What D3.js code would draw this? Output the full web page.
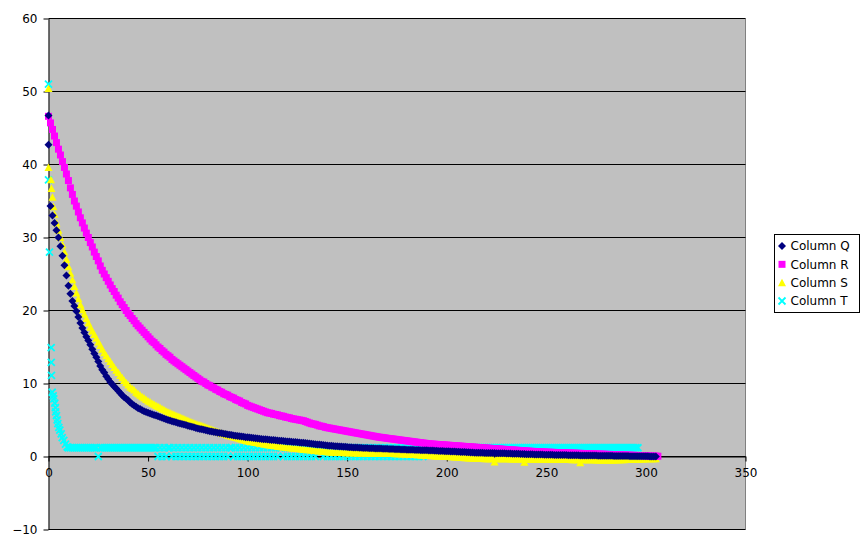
<!DOCTYPE html>
<html><head><meta charset="utf-8">
<script src="https://cdnjs.cloudflare.com/ajax/libs/d3/7.8.5/d3.min.js"></script>
<style>body{margin:0;background:#fff}svg{display:block}text{font-family:"DejaVu Sans",sans-serif;font-size:12px;fill:#000}</style>
</head><body><svg id="chart" width="867" height="548"></svg>
<script>
const seriesNames = ["Column Q","Column R","Column S","Column T"];
const xTicks = [0,50,100,150,200,250,300,350];
const yTicks = [-10,0,10,20,30,40,50,60];

// Column Q: extra early points, then values for x = 1, 2, 3 ...
const qHead = [[0,46.7],[0,42.7]];
const qTailStart = 1;
const qTail = [34.3,33.0,32.0,31.0,30.0,28.8,27.5,26.2,24.8,23.4,
22.3,21.3,20.6,19.9,19.1,18.3,17.6,17.0,16.4,15.9,
15.3,14.7,14.1,13.6,13.0,12.4,11.9,11.5,11.0,10.6,
10.2,9.9,9.6,9.3,9.0,8.7,8.4,8.1,7.9,7.7,
7.4,7.2,7.0,6.8,6.6,6.5,6.35,6.2,6.1,6.0,
5.9,5.8,5.7,5.6,5.5,5.4,5.3,5.2,5.1,5.0,
4.92,4.84,4.76,4.68,4.6,4.52,4.45,4.38,4.3,4.22,
4.15,4.07,4.0,3.92,3.85,3.78,3.72,3.65,3.59,3.52,
3.47,3.42,3.37,3.32,3.27,3.22,3.17,3.12,3.07,3.02,
2.97,2.93,2.89,2.85,2.81,2.77,2.73,2.69,2.65,2.62,
2.59,2.56,2.53,2.5,2.47,2.44,2.41,2.38,2.35,2.32,
2.3,2.27,2.25,2.22,2.2,2.17,2.15,2.12,2.1,2.07,
2.05,2.03,2.0,1.98,1.95,1.93,1.9,1.87,1.84,1.81,
1.78,1.75,1.72,1.69,1.66,1.63,1.6,1.57,1.54,1.51,
1.48,1.46,1.44,1.42,1.4,1.38,1.36,1.34,1.32,1.3,
1.28,1.27,1.25,1.24,1.22,1.21,1.19,1.18,1.16,1.15,
1.14,1.13,1.12,1.11,1.1,1.09,1.08,1.07,1.06,1.05,
1.04,1.03,1.02,1.0,0.99,0.98,0.97,0.96,0.95,0.94,
0.93,0.92,0.91,0.9,0.89,0.88,0.87,0.86,0.85,0.84,
0.83,0.82,0.81,0.8,0.79,0.77,0.76,0.75,0.73,0.72,
0.71,0.7,0.68,0.67,0.65,0.64,0.62,0.61,0.6,0.58,
0.57,0.56,0.55,0.53,0.52,0.51,0.5,0.5,0.49,0.49,
0.48,0.48,0.47,0.47,0.46,0.46,0.45,0.44,0.43,0.42,
0.41,0.4,0.39,0.38,0.37,0.36,0.35,0.34,0.33,0.32,
0.31,0.31,0.3,0.29,0.28,0.28,0.27,0.26,0.25,0.25,
0.24,0.23,0.23,0.22,0.22,0.21,0.2,0.2,0.19,0.19,
0.18,0.18,0.17,0.17,0.16,0.16,0.15,0.15,0.14,0.14,
0.13,0.13,0.12,0.12,0.12,0.11,0.11,0.1,0.1,0.1,
0.09,0.09,0.09,0.08,0.08,0.08,0.07,0.07,0.06,0.06,
0.06,0.05,0.05,0.05,0.04,0.04,0.04,0.03,0.03,0.02,
0.02,0.01,0.01,0.0,0.0];

// Column R
const rHead = [[0,46.6]];
const rTailStart = 1;
const rTail = [45.7,44.8,43.9,43.0,42.1,41.3,40.4,39.6,38.7,37.8,
36.8,35.9,35.0,34.3,33.5,32.7,32.0,31.3,30.6,30.0,
29.3,28.7,28.0,27.4,26.8,26.1,25.5,25.0,24.5,24.0,
23.5,23.0,22.6,22.1,21.7,21.2,20.8,20.4,20.0,19.6,
19.3,18.9,18.6,18.2,17.9,17.6,17.3,17.0,16.7,16.4,
16.1,15.8,15.6,15.3,15.0,14.8,14.5,14.3,14.0,13.8,
13.6,13.3,13.1,12.9,12.7,12.5,12.3,12.1,11.9,11.7,
11.5,11.3,11.1,10.9,10.7,10.5,10.3,10.2,10.0,9.8,
9.7,9.5,9.4,9.2,9.1,8.9,8.8,8.6,8.5,8.4,
8.2,8.1,8.0,7.8,7.7,7.6,7.4,7.3,7.2,7.0,
6.9,6.8,6.7,6.6,6.5,6.4,6.3,6.2,6.1,6.0,
5.95,5.9,5.8,5.75,5.7,5.6,5.55,5.5,5.4,5.35,
5.3,5.2,5.15,5.1,5.05,5.0,4.95,4.9,4.8,4.7,
4.6,4.5,4.45,4.4,4.3,4.2,4.15,4.1,4.0,3.95,
3.9,3.85,3.8,3.75,3.7,3.65,3.6,3.55,3.5,3.45,
3.4,3.35,3.3,3.25,3.2,3.15,3.1,3.05,3.0,2.95,
2.9,2.85,2.8,2.75,2.7,2.65,2.62,2.58,2.55,2.5,
2.47,2.43,2.4,2.36,2.32,2.28,2.25,2.21,2.18,2.14,
2.1,2.07,2.03,2.0,1.96,1.92,1.89,1.85,1.82,1.78,
1.75,1.72,1.7,1.68,1.66,1.64,1.62,1.6,1.58,1.56,
1.54,1.52,1.5,1.48,1.46,1.44,1.42,1.4,1.38,1.36,
1.34,1.32,1.3,1.28,1.26,1.24,1.22,1.2,1.18,1.16,
1.14,1.12,1.1,1.08,1.06,1.04,1.02,1.0,0.98,0.96,
0.94,0.92,0.9,0.88,0.86,0.84,0.82,0.8,0.78,0.76,
0.74,0.72,0.7,0.69,0.68,0.66,0.65,0.63,0.62,0.6,
0.59,0.58,0.57,0.56,0.55,0.54,0.53,0.52,0.51,0.5,
0.49,0.48,0.47,0.46,0.45,0.44,0.43,0.42,0.41,0.4,
0.39,0.38,0.37,0.36,0.35,0.34,0.33,0.32,0.31,0.3,
0.29,0.28,0.27,0.26,0.25,0.24,0.23,0.22,0.21,0.2,
0.19,0.18,0.17,0.16,0.15,0.14,0.13,0.12,0.11,0.1,
0.09,0.08,0.07,0.06,0.05,0.04];

// Column S
const sHead = [[0,50.4],[0,39.6],[1.25,37.9],[1.5,36.7],[2,35.5],[2.5,34.2]];
const sTailStart = 3;
const sTail = [33.2,32.0,31.0,30.0,29.0,28.0,27.0,26.0,
25.1,24.2,23.3,22.4,21.6,20.8,20.1,19.5,18.9,18.3,
17.7,17.2,16.7,16.2,15.7,15.2,14.7,14.2,13.8,13.4,
13.0,12.6,12.2,11.8,11.5,11.1,10.8,10.4,10.1,9.8,
9.5,9.3,9.1,8.8,8.6,8.4,8.2,8.0,7.8,7.6,
7.45,7.3,7.15,7.0,6.85,6.7,6.55,6.4,6.25,6.1,
5.98,5.86,5.74,5.62,5.5,5.4,5.28,5.16,5.04,4.92,
4.8,4.7,4.6,4.5,4.4,4.3,4.2,4.1,4.0,3.9,
3.8,3.7,3.6,3.5,3.4,3.3,3.2,3.1,3.0,2.92,
2.84,2.76,2.68,2.6,2.52,2.44,2.36,2.28,2.2,2.12,
2.07,2.02,1.97,1.92,1.87,1.82,1.77,1.72,1.67,1.62,
1.58,1.54,1.5,1.46,1.42,1.38,1.34,1.3,1.27,1.24,
1.21,1.18,1.15,1.12,1.09,1.06,1.03,1.0,0.97,0.94,
0.92,0.89,0.86,0.83,0.8,0.77,0.74,0.71,0.68,0.65,
0.63,0.61,0.6,0.58,0.57,0.56,0.55,0.54,0.53,0.52,
0.51,0.5,0.5,0.49,0.49,0.48,0.48,0.47,0.47,0.46,
0.46,0.45,0.45,0.44,0.44,0.43,0.43,0.42,0.42,0.41,
0.41,0.4,0.4,0.39,0.38,0.37,0.36,0.35,0.34,0.33,
0.31,0.3,0.28,0.27,0.25,0.24,0.22,0.2,0.18,0.16,
0.14,0.12,0.1,0.08,0.06,0.05,0.04,0.03,0.02,0.01,
0.0,-0.02,-0.04,-0.06,-0.08,-0.1,-0.12,-0.14,-0.16,-0.18,
-0.2,-0.21,-0.22,-0.24,-0.25,-0.27,-0.28,-0.29,-0.3,-0.3,
-0.3,-0.3,-0.3,-0.75,-0.3,-0.31,-0.31,-0.31,-0.32,-0.32,
-0.32,-0.33,-0.33,-0.33,-0.34,-0.34,-0.34,-0.35,-0.8,-0.35,
-0.35,-0.36,-0.36,-0.36,-0.37,-0.37,-0.37,-0.38,-0.38,-0.38,
-0.39,-0.39,-0.39,-0.4,-0.4,-0.4,-0.41,-0.41,-0.41,-0.42,
-0.42,-0.42,-0.43,-0.43,-0.43,-0.44,-0.85,-0.44,-0.45,-0.45,
-0.45,-0.46,-0.46,-0.46,-0.47,-0.47,-0.47,-0.48,-0.48,-0.48,
-0.48,-0.48,-0.48,-0.48,-0.47,-0.46,-0.45,-0.44,-0.43,-0.42,
-0.41,-0.4,-0.39,-0.38,-0.37,-0.36,-0.35,-0.34,-0.33,-0.32,
-0.31,-0.3,-0.3,-0.3,-0.3];

// Column T
const tHead = [[0,51],[0,37.9],[0.5,28],[1.35,14.9],[1.4,12.9],[1.5,11.1],[1.86,8.8],[2.36,8.3],
[2.66,7.9],[3.17,7.3],[3.5,6.7],[3.6,6.1],[4,5.6],[4.37,5.0],[4.67,4.5],[5.17,4.0],[5.67,3.6],
[6.38,3.1],[6.88,2.6],[7.68,2.2],[8.54,1.7],[9.39,1.3]];
const tTailStart = 10;
const tTail = [1.2,1.2,1.2,1.2,1.2,1.2,1.2,1.2,1.2,1.2,
1.2,1.2,1.2,1.2,1.2,0,1.2,1.2,1.2,1.2,
1.2,1.2,1.2,1.2,1.2,1.2,1.2,1.2,1.2,1.2,
1.2,1.2,1.2,1.2,1.2,1.2,1.2,1.2,1.2,1.2,
1.2,1.2,1.2,1.2,1.2,0,1.2,0,1.2,0,
1.2,1.2,0,1.2,0,1.2,0,1.2,0,1.2,
0,1.2,0,1.2,0,1.2,0,1.2,0,1.2,
0,1.2,0,1.2,0,1.2,0,1.2,0,1.2,
0,1.2,1.2,0,1.2,0,1.2,0,1.2,0,
1.2,0,1.2,0,1.2,0,1.2,0,1.2,0,
1.2,0,1.2,0,1.2,0,1.2,1.2,0,1.2,
0,1.2,0,1.2,0,1.2,0,1.2,0,1.2,
0,1.2,0,1.2,0,1.2,1.2,1.2,0,1.2,
0,1.2,0,1.2,0,1.2,0,1.2,0,1.2,
0,1.2,0,1.2,0,1.2,0,1.2,0,1.2,
0,1.2,0,1.2,0,1.2,0,1.2,0,1.2,
0,1.2,0,1.2,0,1.2,0,1.2,0,1.2,
0,1.2,0,1.2,0,1.2,0,1.2,0,1.2,
1.2,1.2,1.2,1.2,1.2,1.2,1.2,1.2,1.2,1.2,
1.2,1.2,1.2,1.2,1.2,1.2,1.2,1.2,1.2,1.2,
1.2,1.2,1.2,1.2,1.2,1.2,1.2,1.2,1.2,1.2,
1.2,1.2,1.2,1.2,1.2,1.2,1.2,1.2,1.2,1.2,
1.2,1.2,1.2,1.2,1.2,1.2,1.2,1.2,1.2,1.2,
1.2,1.2,1.2,1.2,1.2,1.2,1.2,1.2,1.2,1.2,
1.2,1.2,1.2,1.2,1.2,1.2,1.2,1.2,1.2,1.2,
1.2,1.2,1.2,1.2,1.2,1.2,1.2,1.2,1.2,1.2,
1.2,1.2,1.2,1.2,1.2,1.2,1.2,1.2,1.2,1.2,
1.2,1.2,1.2,1.2,1.2,1.2,1.2,1.2,1.2,1.2,
1.2,1.2,1.2,1.2,1.2,1.2,1.2];

function buildPoints(head, start, tail){
  return head.map(d => ({x:d[0], y:d[1]})).concat(tail.map((v,i)=>({x:start+i, y:v})));
}

const series = [
  {name: seriesNames[0], color:"#000080", shape:"diamond", pts: buildPoints(qHead, qTailStart, qTail)},
  {name: seriesNames[1], color:"#ff00ff", shape:"square",  pts: buildPoints(rHead, rTailStart, rTail)},
  {name: seriesNames[2], color:"#ffff00", shape:"triangle",pts: buildPoints(sHead, sTailStart, sTail)},
  {name: seriesNames[3], color:"#00ffff", shape:"cross",   pts: buildPoints(tHead, tTailStart, tTail)}
];

const svg = d3.select("#chart");
const pLeft = 48.5, pRight = 745.5, pTop = 18.5, pBottom = 529.5;
const x = d3.scaleLinear().domain([0,350]).range([pLeft,pRight]);
const y = d3.scaleLinear().domain([-10,60]).range([pBottom,pTop]);

// plot wall
svg.append("rect").attr("x",pLeft).attr("y",pTop).attr("width",pRight-pLeft).attr("height",pBottom-pTop)
  .attr("fill","#c0c0c0");
svg.append("line").attr("x1",pRight).attr("x2",pRight).attr("y1",pTop).attr("y2",pBottom)
  .attr("stroke","#808080");

// gridlines
svg.append("g").selectAll("line").data(yTicks).join("line")
  .attr("x1",pLeft).attr("x2",pRight).attr("y1",d=>y(d)).attr("y2",d=>y(d))
  .attr("stroke","#000").attr("stroke-width",1);

// y axis
const yAxis = svg.append("g").attr("transform",`translate(${pLeft},0)`)
  .call(d3.axisLeft(y).tickValues(yTicks).tickSize(5).tickSizeOuter(0).tickPadding(6));
yAxis.select(".domain").attr("stroke","#000");
yAxis.selectAll("text").style("font-family","DejaVu Sans").style("font-size","12px").attr("dy","0.36em");

// x axis at y = 0
const xAxis = svg.append("g").attr("transform",`translate(0,${y(0)})`)
  .call(d3.axisBottom(x).tickValues(xTicks).tickSize(5).tickSizeOuter(0).tickPadding(3));
xAxis.selectAll("text").style("font-family","DejaVu Sans").style("font-size","12px").attr("y",20.5).attr("dy",0);

// markers
const shapes = {
  diamond: "M0,-4L4,0L0,4L-4,0Z",
  square: "M-3.5,-3.5H3.5V3.5H-3.5Z",
  triangle: "M0,-4L4,3.5L-4,3.5Z",
  cross: "M-3.5,-3.5L3.5,3.5M-3.5,3.5L3.5,-3.5"
};
function styleMarker(sel, s){
  if (s.shape === "cross") sel.attr("fill","none").attr("stroke",s.color).attr("stroke-width",1.8);
  else sel.attr("fill",s.color).attr("stroke","none");
}
const drawOrder = [3,2,1,0];
const plot = svg.append("g");
drawOrder.forEach(i => {
  const s = series[i];
  const g = plot.append("g");
  g.selectAll("path").data(s.pts).join("path")
    .attr("d", shapes[s.shape])
    .attr("transform", d => `translate(${x(d.x)},${y(d.y)})`)
    .call(sel => styleMarker(sel, s));
});

// legend
const lg = svg.append("g");
lg.append("rect").attr("x",774.5).attr("y",234.5).attr("width",85).attr("height",78)
  .attr("fill","#fff").attr("stroke","#000");
const legendY = d3.scalePoint().domain(seriesNames).range([246, 301]);
series.forEach(s => {
  const cy = legendY(s.name);
  lg.append("path").attr("d", shapes[s.shape]).attr("transform",`translate(782,${cy})`)
    .call(sel => styleMarker(sel, s));
  lg.append("text").attr("x",790.5).attr("y",cy+4.4).text(s.name);
});
</script></body></html>
